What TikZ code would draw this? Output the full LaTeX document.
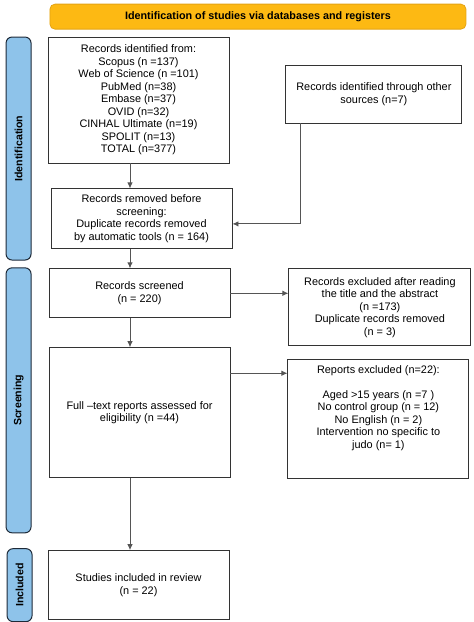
\documentclass[tikz,border=0pt]{standalone}
\usepackage{fontspec}
\setmainfont{Liberation Sans}
\usetikzlibrary{shapes,arrows,arrows.meta}
\usetikzlibrary{positioning}
\usetikzlibrary{calc}
\definecolor{mygold}{RGB}{253,185,19}
\definecolor{mygoldline}{RGB}{228,163,20}
\definecolor{myblue}{RGB}{142,195,234}
\definecolor{mynavy}{RGB}{30,42,56}
\definecolor{mygrey}{RGB}{85,85,85}
\newcommand\mybox[4][]{%
  \node[mybox,#1,minimum height=\the\dimexpr#2pt] (#3) {#4};
}
\newcommand\myphase[4][]{%
  \node[myphase,#1,minimum height=\the\dimexpr#2pt] (#3) {\rotatebox{90}{#4}};
}

\begin{document}
\begin{tikzpicture}[
x=1pt,y=1pt,
>={Latex[length=6pt,width=5.5pt]},
mybox/.style={
  rectangle,
  draw=black!80,
  line width=0.9pt,
  minimum width=181pt,
  inner sep=3pt,
  align=center,
  font=\fontsize{10.9}{12.5}\selectfont},
myphase/.style={
  rectangle,
  rounded corners=6pt,
  draw=mynavy,
  line width=1pt,
  fill=myblue,
  minimum width=25pt,
  inner sep=0pt,
  font=\fontsize{10.6}{12}\selectfont\bfseries},
banner/.style={
  rectangle,
  rounded corners=5pt,
  draw=mygoldline,
  line width=0.8pt,
  fill=mygold,
  minimum width=416pt,
  minimum height=25pt,
  font=\fontsize{10.8}{12}\selectfont\bfseries},
link/.style={
  ->,
  draw=mygrey,
  line width=0.9pt}
]
\useasboundingbox (0,0) rectangle (474,622);
\mybox[at={(138.5,522)}]{126}{records}{Records identified from:\\Scopus (n =137)\\Web of Science (n =101)\\PubMed (n=38)\\Embase (n=37)\\OVID (n=32)\\CINHAL Ultimate (n=19)\\SPOLIT (n=13)\\TOTAL (n=377)}
\mybox[right=56pt of records.north east,anchor=north west,yshift=-28pt,minimum width=176pt]{58}{other}{Records identified through other\\sources (n=7)}
\mybox[below=25pt of records,xshift=3pt]{60}{removed}{Records removed before\\screening:\\Duplicate records removed\\by automatic tools (n = 164)}
\mybox[below=19pt of removed,xshift=-2pt]{49}{screened}{Records screened\\(n = 220)}
\mybox[right=58pt of screened.north east,anchor=north west,minimum width=182pt]{77}{notscreened}{Records excluded after reading\\the title and the abstract\\(n =173)\\Duplicate records removed\\(n = 3)}
\mybox[below=29pt of screened]{130}{fulltext}{Full –text reports assessed for\\eligibility (n =44)}
\mybox[right=57pt of fulltext.north east,anchor=north west,yshift=-12pt]{119}{notfull}{Reports excluded (n=22):\\~\\Aged >15 years (n =7 )\\No control group (n = 12)\\No English (n = 2)\\Intervention no specific to\\judo (n= 1)\\~\\~}
\mybox[below=72pt of fulltext,xshift=-1pt]{69}{included}{Studies included in review\\(n = 22)}

% phases on the left
\node[banner,above=7pt of records.north west,anchor=south west,xshift=2pt] (title) {Identification of studies via databases and registers};
\myphase[left=16pt of records.north west,anchor=north east]{223}{ident}{Identification}
\myphase[left=17pt of screened.north west,anchor=north east,yshift=1pt]{265}{screen}{Screening}
\myphase[left=15pt of included.north west,anchor=north east,yshift=2pt]{73}{incl}{Included}

% arrows
\coordinate (spine) at ([xshift=-8.5pt]records.south);
\draw[link] (spine) -- (spine |- removed.north);
\draw[link] (spine |- removed.south) -- (spine |- screened.north);
\draw[link] (spine |- screened.south) -- (spine |- fulltext.north);
\draw[link] (spine |- fulltext.south) -- (spine |- included.north);
\draw[link] ([xshift=15pt]other.south west) |- ([yshift=-5pt]removed.east);
\draw[link] (screened.east) -- (notscreened.west |- screened.east);
\draw[link] ([yshift=-26pt]fulltext.north east) coordinate (f) -- (f -| notfull.west);
\end{tikzpicture}
\end{document}
